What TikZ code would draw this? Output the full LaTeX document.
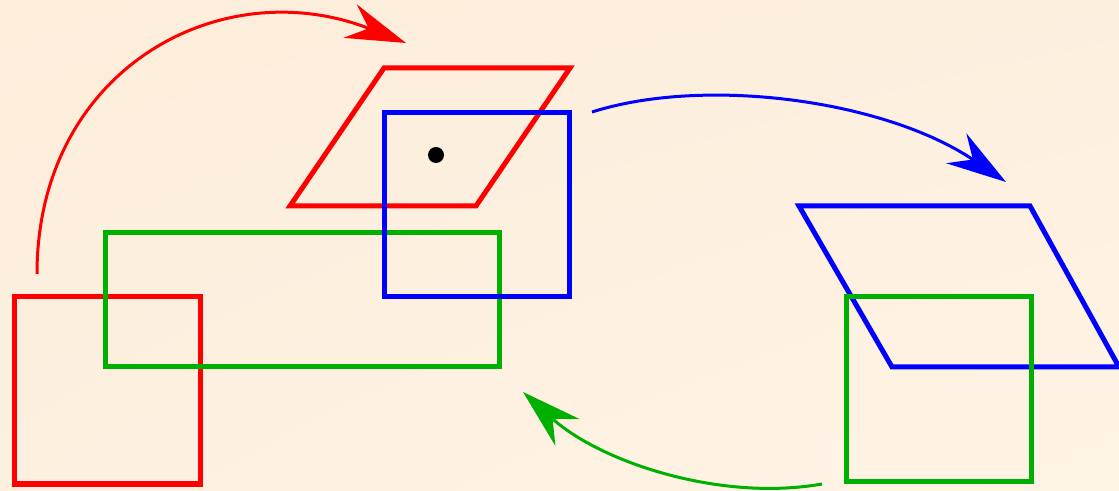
\documentclass[tikz,border=0pt]{standalone}
\usetikzlibrary{arrows.meta,shadings}
\definecolor{bgA}{RGB}{253,237,219}
\definecolor{bgB}{RGB}{254,244,230}
\definecolor{grn}{RGB}{0,176,0}
\begin{document}
\begin{tikzpicture}[x=0.5pt,y=-0.5pt,
  shapeline/.style={line width=2.5pt,line join=miter},
  arc/.style={line width=1.5pt,-{Stealth[length=30pt,width=18pt,inset=10pt]}}]
\shade[upper left=bgA,upper right=bgA!70!bgB,lower left=bgA!60!bgB,lower right=bgB] (0,0) rectangle (1119,491);
\useasboundingbox (0,0) rectangle (1119,491);
% left group
\draw[shapeline,red] (14,297) rectangle (200,484);
\draw[shapeline,grn] (105,233) rectangle (499,367);
\draw[shapeline,red] (384,68) -- (570,68) -- (476,206) -- (290,206) -- cycle;
\draw[shapeline,blue] (384,113) rectangle (569,297);
\fill[black] (436,155) circle (8);
% right group
\draw[shapeline,blue] (799,206) -- (1030,206) -- (1119,367) -- (892,367) -- cycle;
\draw[shapeline,grn] (846,297) rectangle (1031,482);
% connectors
\coordinate (r1) at (37,274);
\coordinate (r2) at (406,43);
\coordinate (b1) at (592,112);
\coordinate (b2) at (1006,182);
\coordinate (g1) at (822,484);
\coordinate (g2) at (523,392);
\draw[arc,red] (r1) .. controls (37,70) and (220,-30) .. (r2);
\draw[arc,blue] (b1) .. controls (705,76) and (885,100) .. (b2);
\draw[arc,grn] (g1) .. controls (720,502) and (600,462) .. (g2);
\end{tikzpicture}
\end{document}
